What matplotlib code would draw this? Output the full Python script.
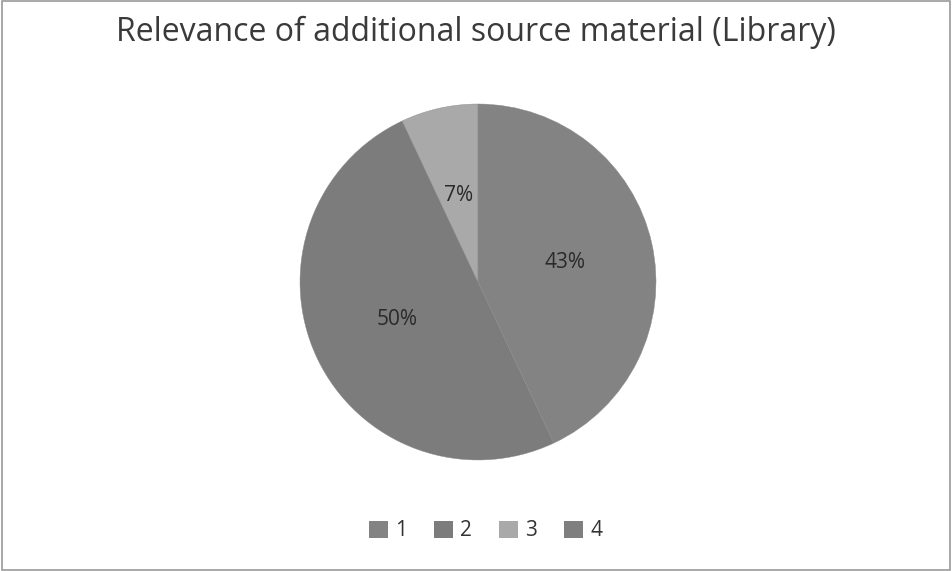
import matplotlib
matplotlib.use("Agg")
import matplotlib.pyplot as plt
from matplotlib.patches import Rectangle, Patch

categories = ["1", "2", "3", "4"]
values = [43, 50, 7, 0]
colors = ["#838383", "#7c7c7c", "#a9a9a9", "#7f7f7f"]

plt.rcParams['font.family'] = ['Open Sans', 'DejaVu Sans']

fig = plt.figure(figsize=(9.52, 5.71), dpi=100)
fig.patch.set_facecolor("white")
fig.add_artist(Rectangle((0.002, 0.002), 0.996, 0.996, transform=fig.transFigure,
                         fill=False, edgecolor="#9a9a9a", linewidth=1.2))

r = 178 / 571
cx, cy = 478 / 952, 1 - 282 / 571
ax = fig.add_axes([cx - r * 571 / 952, cy - r, 2 * r * 571 / 952, 2 * r])

def fmt(p):
    return f"{p:.0f}%" if p > 0.5 else ""

wedges, texts, autotexts = ax.pie(values, colors=colors, startangle=90, counterclock=False,
                                  autopct=fmt, pctdistance=0.5,
                                  wedgeprops=dict(linewidth=0.3, edgecolor="#8a8a8a"),
                                  textprops=dict(fontsize=15, color="#2a2a2a"))
ax.set_aspect("equal")
ax.set_xlim(-1, 1)
ax.set_ylim(-1, 1)

fig.text(0.5, 1 - 32 / 571, "Relevance of additional source material (Library)",
         ha="center", va="center", fontsize=23, color="#3a3a3a")

handles = [Patch(facecolor=c, edgecolor="none") for c in colors]
fig.legend(handles, categories, loc="center", bbox_to_anchor=(0.51, 1 - 531 / 571),
           ncol=4, frameon=False, fontsize=15, handlelength=0.9, handleheight=0.9,
           columnspacing=1.3, handletextpad=0.35, labelcolor="#333333")

fig.savefig("out.png", dpi=100)
